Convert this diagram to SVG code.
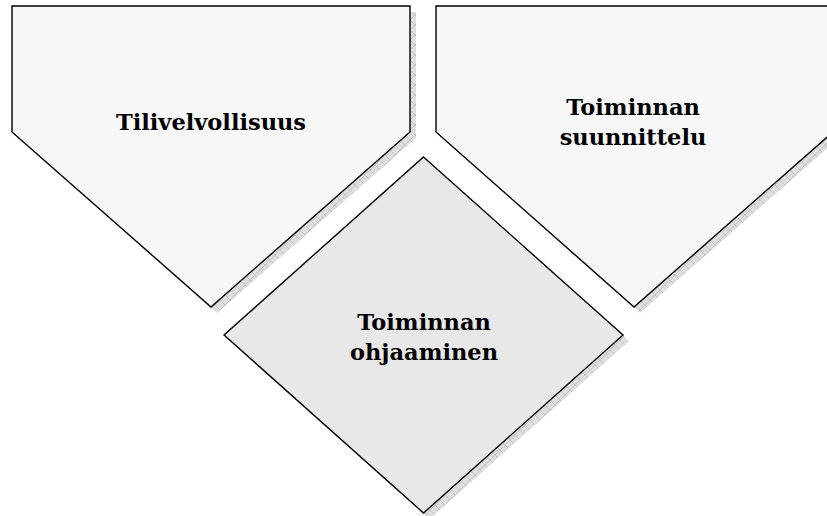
<svg xmlns="http://www.w3.org/2000/svg" width="827" height="516" viewBox="0 0 827 516">
  <defs>
    <pattern id="hatch" width="10" height="10" patternUnits="userSpaceOnUse">
      <rect width="10" height="10" fill="#dedede"/>
      <path d="M0,0 L10,10 M10,0 L0,10" stroke="#c4c4c4" stroke-width="1"/>
    </pattern>
  </defs>
  <style>
    .shadow { fill: url(#hatch); stroke: none; }
    .shape { stroke: #000; stroke-width: 1.4; stroke-linejoin: miter; }
    .light { fill: #f7f7f7; }
    .mid { fill: #e8e8e8; }
    .label { font-family: "DejaVu Serif", "Liberation Serif", serif; font-weight: bold; font-size: 22.5px; fill: #000; text-anchor: middle; }
  </style>
  <rect width="827" height="516" fill="#fff"/>
  <g id="tilivelvollisuus">
    <polygon class="shadow" points="18,12 416,12 416,138 217,313 18,138"/>
    <polygon class="shape light" points="12,6 410,6 410,132 211,307 12,132"/>
    <text class="label" x="211" y="130">Tilivelvollisuus</text>
  </g>
  <g id="toiminnan-suunnittelu">
    <polygon class="shadow" points="442,12 839,12 839,138 640,313 442,138"/>
    <polygon class="shape light" points="436,6 833,6 833,132 634,307 436,132"/>
    <text class="label" x="633" y="115">Toiminnan</text>
    <text class="label" x="633" y="145">suunnittelu</text>
  </g>
  <g id="toiminnan-ohjaaminen">
    <polygon class="shadow" points="429.5,163 629,341 429.5,519 230,341"/>
    <polygon class="shape mid" points="423.5,157 623,335 423.5,513 224,335"/>
    <text class="label" x="424" y="330">Toiminnan</text>
    <text class="label" x="424" y="360">ohjaaminen</text>
  </g>
  <g id="connectors"/>
</svg>
